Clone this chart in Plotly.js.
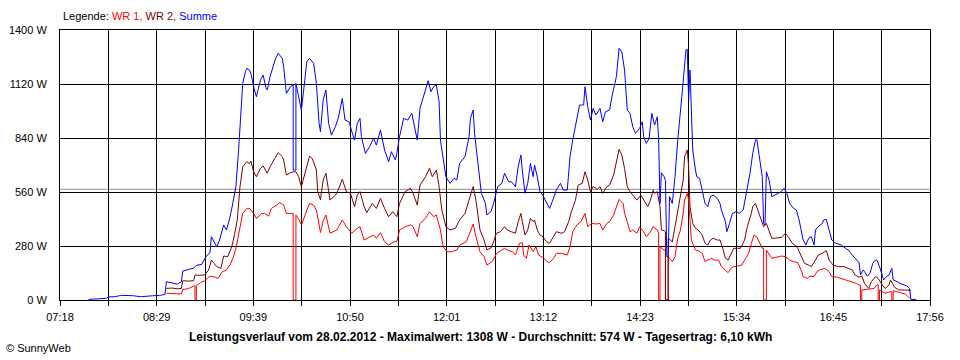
<!DOCTYPE html>
<html><head><meta charset="utf-8">
<script src="https://cdn.plot.ly/plotly-3.0.1.min.js"></script>
<style>html,body{margin:0;padding:0;background:#fff}#chart{width:960px;height:360px}</style>
</head><body><div id="chart"></div>
<script>
const xTickLabels = ["07:18","08:29","09:39","10:50","12:01","13:12","14:23","15:34","16:45","17:56"];
const yTickValues = [0,280,560,840,1120,1400];
const averageW = 574;
const chartTitle = "Leistungsverlauf vom 28.02.2012 - Maximalwert: 1308 W - Durchschnitt: 574 W - Tagesertrag: 6,10 kWh";

const sumTime = ["07:39","07:47","07:52","07:54","07:58","08:03","08:07","08:12","08:17","08:22","08:26","08:31","08:35","08:36","08:40","08:44","08:47","08:48","08:52","08:56","08:58","09:02","09:05","09:08","09:09","09:11","09:13","09:15","09:18","09:20","09:22","09:24","09:27","09:29","09:30","09:32","09:34","09:35","09:37","09:38","09:40","09:42","09:45","09:47","09:49","09:50","09:52","09:54","09:56","09:58","10:00","10:01","10:02","10:04","10:07","10:09","10:09","10:11","10:11","10:13","10:15","10:17","10:19","10:21","10:24","10:26","10:28","10:29","10:31","10:33","10:35","10:37","10:40","10:42","10:44","10:45","10:47","10:50","10:52","10:54","10:56","10:58","10:59","11:02","11:05","11:08","11:10","11:13","11:16","11:19","11:21","11:24","11:25","11:27","11:30","11:33","11:36","11:38","11:40","11:42","11:45","11:47","11:48","11:50","11:52","11:54","11:56","11:57","11:59","12:01","12:04","12:07","12:09","12:11","12:15","12:18","12:19","12:21","12:22","12:25","12:27","12:30","12:31","12:34","12:36","12:39","12:42","12:44","12:47","12:49","12:52","12:54","12:56","12:57","12:59","13:01","13:03","13:05","13:06","13:08","13:10","13:12","13:14","13:17","13:19","13:22","13:25","13:27","13:30","13:32","13:34","13:37","13:39","13:42","13:43","13:45","13:47","13:49","13:51","13:54","13:56","13:58","14:01","14:03","14:06","14:08","14:10","14:12","14:14","14:16","14:18","14:20","14:23","14:25","14:26","14:28","14:30","14:32","14:34","14:36","14:37","14:38","14:39","14:41","14:42","14:43","14:44","14:45","14:47","14:49","14:51","14:54","14:56","14:57","14:58","14:59","15:00","15:01","15:02","15:04","15:05","15:07","15:09","15:11","15:13","15:15","15:17","15:20","15:22","15:23","15:26","15:27","15:29","15:31","15:34","15:36","15:39","15:41","15:44","15:46","15:48","15:49","15:51","15:53","15:54","15:55","15:56","15:58","16:00","16:02","16:05","16:07","16:09","16:11","16:13","16:16","16:18","16:20","16:23","16:25","16:27","16:29","16:31","16:32","16:34","16:37","16:38","16:40","16:42","16:44","16:46","16:49","16:51","16:54","16:56","16:59","17:01","17:04","17:05","17:07","17:08","17:10","17:12","17:14","17:16","17:17","17:19","17:21","17:22","17:24","17:26","17:28","17:29","17:32","17:34","17:37","17:39","17:41","17:42","17:46"];
const sumWatt = [3,5,9,16,17,24,24,22,17,21,22,24,29,95,88,82,95,150,158,165,180,185,225,245,328,300,276,311,389,363,410,475,588,780,900,1123,1184,1201,1192,1175,1106,1054,1140,1166,1100,1089,1158,1210,1250,1279,1260,1253,1210,1071,1106,1115,674,674,1123,1050,985,1106,1235,1253,1227,1123,916,873,1037,1089,916,855,899,942,1020,1045,933,924,873,829,916,942,847,760,795,838,803,881,778,717,769,726,760,847,942,933,968,907,829,994,1071,1115,1137,1080,1106,1115,1028,829,726,639,605,631,622,708,743,847,942,985,864,691,553,501,441,458,501,588,605,657,613,613,588,691,752,674,553,605,708,639,700,639,562,544,518,475,510,570,605,570,570,743,829,933,1011,1011,1106,1002,933,994,959,994,924,976,985,1063,1158,1305,1287,1192,985,968,899,864,890,924,847,812,838,968,907,950,838,500,660,640,620,225,225,536,501,639,829,1054,1210,1296,1300,1037,1192,916,778,674,639,631,570,501,484,536,544,527,501,467,406,354,397,449,458,449,467,536,657,760,829,833,743,639,397,389,665,622,536,544,553,562,579,553,501,475,467,415,311,285,320,328,285,363,380,397,415,418,363,311,297,290,285,268,259,233,216,194,130,156,147,124,138,190,207,207,173,130,104,121,130,164,104,95,86,78,73,60,3,3];

const wr2Time = ["08:36","08:40","08:44","08:47","08:48","08:52","08:56","08:57","09:00","09:04","09:07","09:09","09:11","09:13","09:16","09:18","09:21","09:24","09:26","09:28","09:30","09:32","09:35","09:37","09:38","09:40","09:42","09:45","09:47","09:50","09:52","09:55","09:58","10:00","10:01","10:02","10:04","10:07","10:09","10:11","10:13","10:15","10:18","10:21","10:23","10:26","10:27","10:29","10:31","10:33","10:36","10:40","10:42","10:45","10:48","10:51","10:54","10:56","10:58","11:01","11:03","11:07","11:10","11:13","11:16","11:19","11:22","11:25","11:27","11:31","11:35","11:37","11:40","11:42","11:46","11:49","11:51","11:54","11:56","11:58","12:01","12:04","12:08","12:11","12:15","12:18","12:21","12:23","12:26","12:29","12:31","12:34","12:36","12:38","12:41","12:44","12:46","12:49","12:52","12:54","12:56","12:57","12:59","13:01","13:03","13:05","13:06","13:08","13:10","13:12","13:15","13:17","13:20","13:22","13:26","13:28","13:31","13:33","13:36","13:38","13:41","13:43","13:45","13:47","13:49","13:52","13:54","13:56","13:59","14:01","14:04","14:06","14:08","14:10","14:12","14:14","14:16","14:19","14:21","14:24","14:26","14:29","14:31","14:33","14:34","14:36","14:38","14:39","14:41","14:42","14:42","14:44","14:44","14:47","14:49","14:51","14:53","14:55","14:56","14:58","14:59","15:00","15:02","15:04","15:06","15:09","15:11","15:13","15:15","15:17","15:20","15:22","15:24","15:26","15:28","15:30","15:32","15:35","15:37","15:40","15:42","15:45","15:46","15:48","15:50","15:52","15:54","15:56","15:57","16:00","16:02","16:05","16:07","16:10","16:12","16:15","16:17","16:19","16:22","16:24","16:27","16:29","16:32","16:34","16:37","16:40","16:42","16:45","16:49","16:53","16:56","16:59","17:01","17:04","17:06","17:08","17:11","17:13","17:16","17:18","17:21","17:23","17:26","17:27","17:30","17:33","17:37","17:40","17:42"];
const wr2Watt = [60,62,58,60,100,98,100,130,128,130,155,207,190,173,164,228,225,276,340,415,588,691,717,708,720,665,639,682,695,657,691,726,764,750,743,726,648,660,665,665,640,588,674,746,734,674,562,520,622,657,518,544,570,626,562,553,484,544,562,484,453,501,475,527,475,432,458,432,501,562,579,553,492,596,639,683,639,674,588,467,380,363,372,415,449,518,588,518,363,311,259,270,302,346,354,380,363,354,346,406,449,406,337,363,423,406,415,363,337,328,302,294,328,354,346,354,406,458,518,596,605,665,622,562,588,574,588,553,588,596,648,717,781,752,682,588,562,536,518,544,518,484,518,570,553,562,484,363,360,354,0,0,320,302,380,467,553,622,743,778,691,484,397,372,363,337,294,285,311,320,311,311,268,216,207,242,268,268,268,311,380,449,484,501,458,415,380,397,380,320,320,325,325,346,328,294,285,268,216,190,181,173,207,233,242,256,207,181,173,173,164,156,130,118,124,86,60,95,121,112,78,60,78,104,66,52,52,52,50];

const wr1Time = ["08:36","08:40","08:44","08:47","08:48","08:52","08:56","08:57","08:57","08:58","08:58","09:01","09:04","09:08","09:12","09:14","09:17","09:20","09:23","09:25","09:27","09:30","09:32","09:35","09:37","09:40","09:42","09:46","09:48","09:51","09:53","09:57","09:59","10:02","10:04","10:07","10:09","10:09","10:11","10:11","10:13","10:15","10:18","10:21","10:24","10:26","10:29","10:31","10:33","10:36","10:41","10:45","10:48","10:52","10:56","10:58","11:01","11:05","11:08","11:10","11:13","11:16","11:19","11:23","11:25","11:27","11:31","11:35","11:37","11:40","11:42","11:46","11:49","11:52","11:54","11:57","11:59","12:02","12:05","12:09","12:11","12:16","12:19","12:21","12:23","12:26","12:29","12:31","12:35","12:38","12:42","12:44","12:47","12:50","12:52","12:55","12:57","12:58","13:00","13:02","13:05","13:07","13:09","13:11","13:13","13:15","13:17","13:20","13:22","13:26","13:30","13:32","13:34","13:37","13:40","13:43","13:45","13:48","13:51","13:54","13:56","13:59","14:01","14:04","14:06","14:08","14:11","14:12","14:14","14:16","14:18","14:21","14:23","14:26","14:28","14:31","14:33","14:36","14:37","14:37","14:38","14:38","14:41","14:42","14:42","14:44","14:44","14:47","14:49","14:51","14:53","14:55","14:56","14:58","14:59","15:00","15:01","15:04","15:06","15:09","15:11","15:13","15:16","15:18","15:21","15:23","15:26","15:28","15:30","15:32","15:35","15:38","15:40","15:43","15:45","15:47","15:49","15:51","15:53","15:54","15:54","15:56","15:56","16:00","16:04","16:07","16:10","16:13","16:16","16:19","16:22","16:23","16:26","16:28","16:31","16:33","16:35","16:39","16:42","16:44","16:48","16:51","16:55","16:59","17:02","17:04","17:05","17:05","17:06","17:06","17:11","17:15","17:17","17:18","17:18","17:19","17:19","17:23","17:27","17:28","17:28","17:29","17:29","17:34","17:38","17:40","17:41"];
const wr1Watt = [35,33,31,31,55,58,73,73,0,0,75,90,100,124,118,112,147,155,187,220,268,380,449,475,475,449,423,449,449,435,475,492,505,492,449,449,449,0,0,440,420,389,449,501,492,467,350,410,441,346,363,415,380,346,372,380,311,328,337,320,349,302,285,302,302,363,380,389,380,328,397,423,458,432,441,363,276,250,250,259,285,302,363,394,328,250,225,181,199,240,259,268,256,250,233,294,297,233,216,285,250,276,233,225,216,199,194,216,242,242,233,276,354,389,406,449,380,397,394,397,363,397,406,441,484,522,501,449,406,354,363,346,380,354,328,354,380,363,346,0,0,276,259,259,0,0,225,199,225,320,363,449,518,553,518,415,311,259,256,242,199,207,216,207,207,173,155,142,164,173,176,181,207,242,294,337,328,294,268,268,0,0,259,216,225,228,225,207,199,194,147,121,112,124,121,147,156,164,147,121,118,112,104,95,86,78,78,0,0,52,55,60,78,78,0,0,52,35,43,43,0,0,48,38,31,17,9];

function toMin(s){const p=s.split(':').map(Number);return p[0]*60+p[1];}
const xStart = toMin(xTickLabels[0]);
const xEnd = toMin(xTickLabels[xTickLabels.length-1]);
const step = (xEnd-xStart)/(xTickLabels.length-1);
const tickVals = xTickLabels.map((_,i)=>xStart+i*step);

const traces = [
  {x: wr1Time.map(toMin), y: wr1Watt, name:'WR 1', mode:'lines', line:{color:'#ff0000', width:1}, hoverinfo:'skip'},
  {x: wr2Time.map(toMin), y: wr2Watt, name:'WR 2', mode:'lines', line:{color:'#800000', width:1}, hoverinfo:'skip'},
  {x: sumTime.map(toMin), y: sumWatt, name:'Summe', mode:'lines', line:{color:'#0000ff', width:1}, hoverinfo:'skip'}
];

const PX = v => (v-60)/870;
const PY = v => (300-v)/270;

const layout = {
  width:960, height:360,
  margin:{l:60, r:30, t:30, b:60},
  paper_bgcolor:'#ffffff', plot_bgcolor:'#ffffff',
  showlegend:false,
  font:{family:'"Liberation Sans", Arial, sans-serif', size:11, color:'#000'},
  xaxis:{
    range:[xStart,xEnd], tickmode:'array', tickvals:tickVals, ticktext:xTickLabels,
    showgrid:true, gridcolor:'#000', gridwidth:1,
    ticks:'outside', ticklen:5, tickcolor:'#000', tickwidth:1,
    showline:true, linecolor:'#000', linewidth:1, mirror:true, zeroline:false,
    minor:{tick0:xStart, dtick:step/2, showgrid:true, gridcolor:'#000', gridwidth:1, ticks:'outside', ticklen:5, tickcolor:'#000'},
    tickfont:{size:11}, ticklabelstandoff:2
  },
  yaxis:{
    range:[0,1400], tickmode:'array', tickvals:yTickValues, ticktext:yTickValues.map(v=>v+' W'),
    showgrid:true, gridcolor:'#000', gridwidth:1, ticks:'',
    showline:true, linecolor:'#000', linewidth:1, mirror:true, zeroline:false,
    tickfont:{size:11}, ticklabelstandoff:10
  },
  shapes:[{type:'line', xref:'paper', x0:0, x1:1, yref:'y', y0:averageW, y1:averageW, line:{color:'#909090', width:1}, layer:'below'}],
  annotations:[
    {xref:'paper', yref:'paper', x:PX(61), y:PY(16), xanchor:'left', yanchor:'middle', showarrow:false,
     text:'Legende: <span style="color:#ff0000">WR 1,</span> <span style="color:#800000">WR 2,</span> <span style="color:#0000ff">Summe</span>',
     font:{size:11}},
    {xref:'paper', yref:'paper', x:PX(480), y:PY(337), xanchor:'center', yanchor:'middle', showarrow:false,
     text:'<b>'+chartTitle+'</b>', font:{size:12}},
    {xref:'paper', yref:'paper', x:PX(4), y:PY(348), xanchor:'left', yanchor:'middle', showarrow:false,
     text:'© SunnyWeb', font:{size:11}}
  ]
};
Plotly.newPlot('chart', traces, layout, {staticPlot:true, displayModeBar:false});
</script>
</body></html>
